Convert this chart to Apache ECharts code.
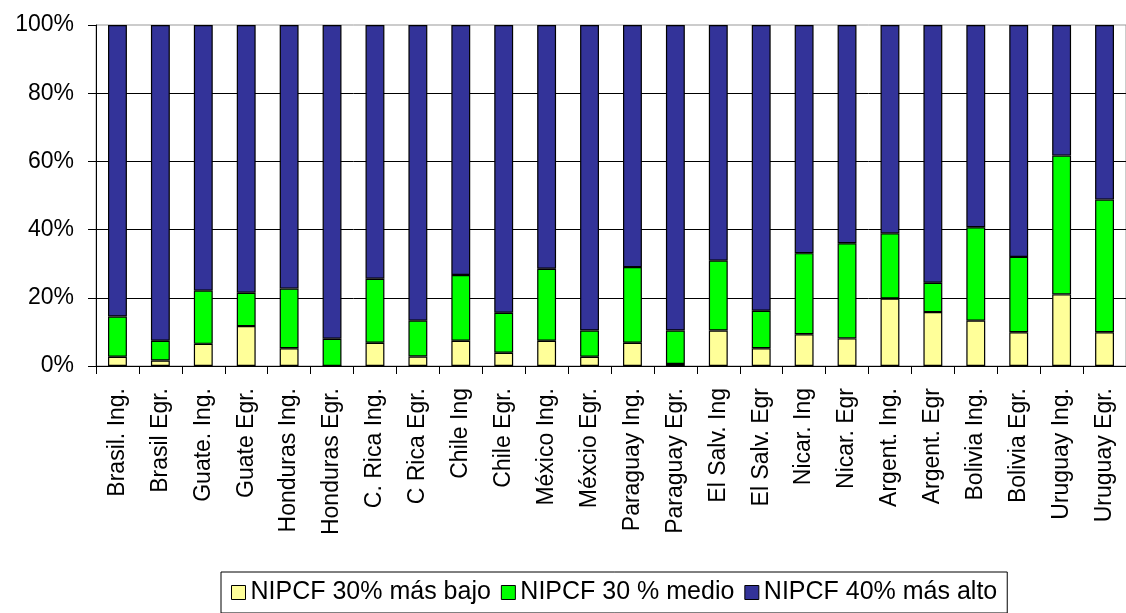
<!DOCTYPE html>
<html>
<head>
<meta charset="utf-8">
<script src="https://cdn.jsdelivr.net/npm/echarts@6/dist/echarts.min.js"></script>
<style>
html,body{margin:0;padding:0;background:#fff;}
#chart{width:1126px;height:613px;}
</style>
</head>
<body>
<div id="chart"></div>
<script>
const categories = ['Brasil. Ing.','Brasil Egr.','Guate. Ing.','Guate Egr.','Honduras Ing.','Honduras Egr.','C. Rica Ing.','C Rica Egr.','Chile Ing','Chile Egr.','México Ing.','Méxcio Egr.','Paraguay Ing.','Paraguay Egr.','El Salv. Ing','El Salv. Egr','Nicar. Ing','Nicar. Egr','Argent. Ing.','Argent. Egr','Bolivia Ing.','Bolivia Egr.','Uruguay Ing.','Uruguay Egr.'];
const seriesNames = ['NIPCF 30% más bajo','NIPCF 30 % medio','NIPCF 40% más alto'];
const bajo  = [2.7,1.6,6.5,11.7,5.2,0,6.8,2.8,7.4,3.9,7.4,2.7,6.8,0.6,10.4,5.2,9.3,8.1,19.8,15.8,13.3,9.9,21.0,9.9];
const medio = [11.8,5.8,15.6,9.8,17.5,8.0,18.8,10.5,19.3,11.7,21.1,7.7,22.2,9.8,20.5,11.0,23.8,27.9,19.1,8.6,27.4,22.1,40.7,38.9];
const alto  = [85.5,92.6,77.9,78.5,77.3,92.0,74.4,86.7,73.3,84.4,71.5,89.6,71.0,89.6,69.1,83.8,66.9,64.0,61.1,75.6,59.3,68.0,38.3,51.2];
const yTicks = [0,20,40,60,80,100];

const colors = ['#FFFF99','#00FF00','#333399'];
const font = 'Liberation Sans, Arial, sans-serif';
const chart = echarts.init(document.getElementById('chart'), null, {renderer:'canvas'});
const mk = (name, data, color) => ({
  name, type:'bar', stack:'total', data, barWidth:'44%',
  itemStyle:{color, borderColor:'#000', borderWidth:1.2},
  emphasis:{disabled:true}
});
chart.setOption({
  animation:false,
  backgroundColor:'#fff',
  grid:{left:96, top:25, width:1037, bottom:247, show:true, borderColor:'#999', borderWidth:1, backgroundColor:'transparent'},
  legend:{
    left:221, top:572, orient:'horizontal',
    data:seriesNames,
    itemWidth:14, itemHeight:14, itemGap:10,
    padding:[8,10,8,10],
    borderColor:'#000', borderWidth:1,
    icon:'rect',
    itemStyle:{borderColor:'#000', borderWidth:1},
    textStyle:{fontFamily:font, fontSize:25, color:'#000'}
  },
  xAxis:{
    type:'category', data:categories,
    axisLine:{lineStyle:{color:'#000', width:1}},
    axisTick:{show:true, length:8, lineStyle:{color:'#000'}},
    axisLabel:{rotate:90, margin:22, interval:0, fontFamily:font, fontSize:23, color:'#000'},
    splitLine:{show:false}
  },
  yAxis:{
    type:'value', min:0, max:100, interval:20,
    axisLine:{show:true, lineStyle:{color:'#000', width:1}},
    axisTick:{show:true, length:8, lineStyle:{color:'#000'}},
    axisLabel:{formatter:v => yTicks.includes(v) ? v + '%' : '', margin:22, fontFamily:font, fontSize:23, color:'#000'},
    splitLine:{show:true, showMaxLine:false, lineStyle:{color:'#000', width:1}}
  },
  series:[
    mk(seriesNames[0], bajo, colors[0]),
    mk(seriesNames[1], medio, colors[1]),
    mk(seriesNames[2], alto, colors[2])
  ]
});
</script>
</body>
</html>
